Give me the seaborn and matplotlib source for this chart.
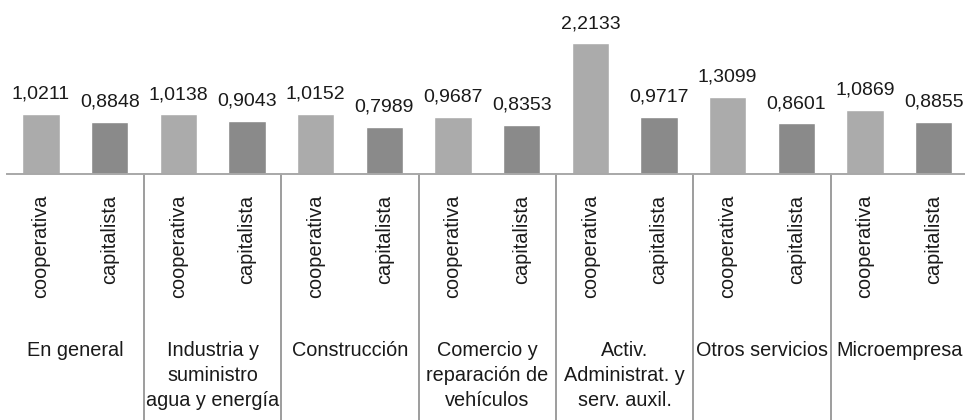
import pandas as pd
import matplotlib
matplotlib.use('Agg')
import matplotlib.pyplot as plt
import seaborn as sns

grupos = ['En general', 'Industria y\nsuministro\nagua y energía', 'Construcción',
          'Comercio y\nreparación de\nvehículos', 'Activ.\nAdministrat. y\nserv. auxil.',
          'Otros servicios', 'Microempresa']
tipos = ['cooperativa', 'capitalista']
cooperativa = [1.0211, 1.0138, 1.0152, 0.9687, 2.2133, 1.3099, 1.0869]
capitalista = [0.8848, 0.9043, 0.7989, 0.8353, 0.9717, 0.8601, 0.8855]
colores = ['#ababab', '#8a8a8a']

df = pd.DataFrame({
    'grupo': grupos * 2,
    'tipo': [tipos[0]] * len(grupos) + [tipos[1]] * len(grupos),
    'valor': cooperativa + capitalista,
})

sns.set_style('white')
plt.rcParams['font.family'] = ['Liberation Sans', 'DejaVu Sans']

fig = plt.figure(figsize=(9.65, 4.2), dpi=100)
# baseline at y=174px, group width ~137.3px starting at x~6.7px
ax = fig.add_axes([6.7 / 965, 246 / 420, 961.3 / 965, 174 / 420])

sns.barplot(data=df, x='grupo', y='valor', hue='tipo', order=grupos, hue_order=tipos,
            palette=colores, width=1.0, gap=0.46, legend=False, ax=ax)

for cont in ax.containers:
    labels = ['{:.4f}'.format(b.get_height()).replace('.', ',') for b in cont]
    ax.bar_label(cont, labels=labels, padding=8, fontsize=14, color='#1a1a1a')

ax.set_xlim(-0.5, len(grupos) - 0.5)
ax.set_ylim(0, 174 / 59)
for s in ['top', 'left', 'right']:
    ax.spines[s].set_visible(False)
ax.spines['bottom'].set_color('#a8a8a8')
ax.spines['bottom'].set_linewidth(1.4)
ax.set_xticks([])
ax.set_yticks([])
ax.set_xlabel('')
ax.set_ylabel('')

trans = ax.get_xaxis_transform()
for i, g in enumerate(grupos):
    for j, t in enumerate(tipos):
        ax.text(i - 0.25 + 0.5 * j, -21 / 174, t, rotation=90, ha='center', va='top',
                fontsize=14.3, color='#1a1a1a', transform=trans)
    ax.text(i, -167 / 174, g, ha='center', va='top', fontsize=14.3, color='#1a1a1a',
            linespacing=1.4, multialignment='center', transform=trans)
    # separators between groups
    ax.plot([i + 0.5, i + 0.5], [0, -250 / 174], color='#8c8c8c', lw=1.2,
            transform=trans, clip_on=False)

fig.savefig('out.png', dpi=100)
